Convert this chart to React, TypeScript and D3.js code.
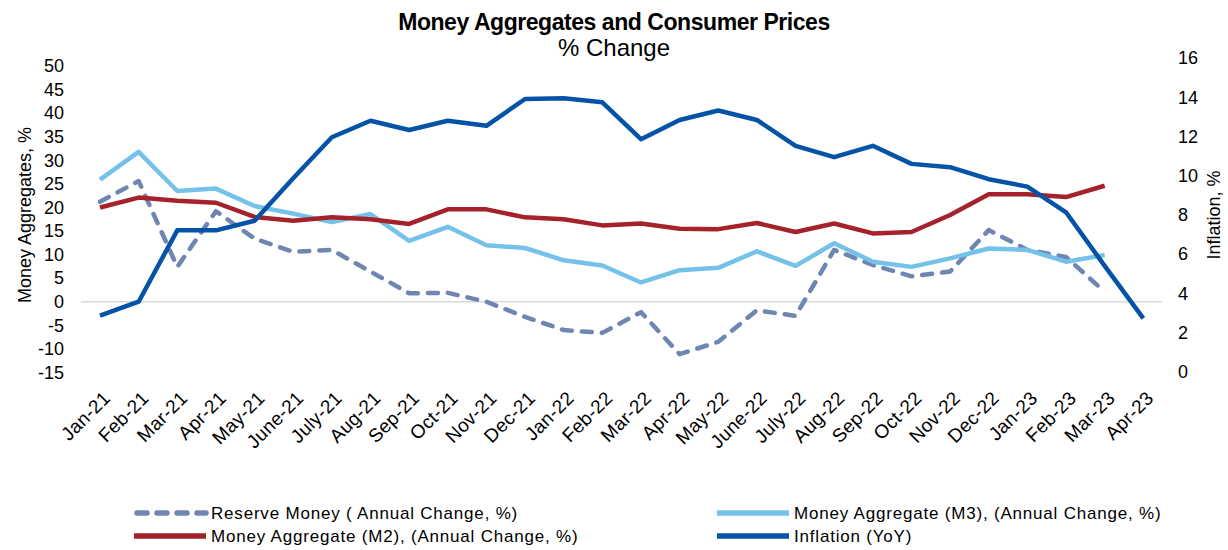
import React, { useEffect, useRef } from 'react';
import * as d3 from 'd3';

const months = [
  'Jan-21', 'Feb-21', 'Mar-21', 'Apr-21', 'May-21', 'June-21', 'July-21', 'Aug-21', 'Sep-21', 'Oct-21',
  'Nov-21', 'Dec-21', 'Jan-22', 'Feb-22', 'Mar-22', 'Apr-22', 'May-22', 'June-22', 'July-22', 'Aug-22',
  'Sep-22', 'Oct-22', 'Nov-22', 'Dec-22', 'Jan-23', 'Feb-23', 'Mar-23', 'Apr-23',
];

// left axis series (money aggregates, %), Apr-23 missing
const reserveMoney = [
  21.2, 25.6, 7.4, 19.2, 13.4, 10.6, 11.0, 6.4, 1.8, 1.9, 0, -3.2, -6.0, -6.6, -2.2, -11.1,
  -8.5, -1.8, -3.0, 11.0, 7.8, 5.4, 6.4, 15.2, 11.0, 9.5, 2.1, null,
];
const m3 = [
  25.9, 31.8, 23.5, 24.0, 20.3, 18.7, 16.9, 18.6, 12.9, 15.9, 12.0, 11.4, 8.8, 7.7, 4.1, 6.7,
  7.2, 10.7, 7.6, 12.4, 8.5, 7.4, 9.2, 11.3, 11.0, 8.5, 9.9, null,
];
const m2 = [
  20.0, 22.1, 21.4, 21.0, 18.0, 17.2, 17.9, 17.5, 16.5, 19.6, 19.6, 17.9, 17.5, 16.2, 16.6, 15.5,
  15.4, 16.7, 14.8, 16.6, 14.5, 14.8, 18.4, 22.8, 22.8, 22.2, 24.6, null,
];
// right axis (inflation yoy, %)
const inflation = [
  2.86, 3.57, 7.21, 7.21, 7.7, 9.87, 11.96, 12.8, 12.33, 12.8, 12.54, 13.91, 13.95, 13.74, 11.86, 12.84,
  13.32, 12.84, 11.52, 10.94, 11.52, 10.6, 10.43, 9.82, 9.44, 8.13, 5.4, 2.72,
];

const leftTicks = [50, 45, 40, 35, 30, 25, 20, 15, 10, 5, 0, -5, -10, -15];
const rightTicks = [16, 14, 12, 10, 8, 6, 4, 2, 0];

const FONT = '"Liberation Sans", Arial, sans-serif';
const W = 1228;
const H = 550;

const series = [
  { name: 'Reserve Money ( Annual Change, %)', values: reserveMoney, color: '#7086b2', dash: '10,10', axis: 'left' },
  { name: 'Money Aggregate (M3), (Annual Change, %)', values: m3, color: '#74c2ea', dash: null, axis: 'left' },
  { name: 'Money Aggregate (M2), (Annual Change, %)', values: m2, color: '#a5222b', dash: null, axis: 'left' },
  { name: 'Inflation (YoY)', values: inflation, color: '#0453a6', dash: null, axis: 'right' },
];

export default function App() {
  const svgRef = useRef<SVGSVGElement>(null);

  useEffect(() => {
    if (!svgRef.current) return;
    const svg = d3.select(svgRef.current);
    svg.selectAll('*').remove();

    const x = d3.scalePoint<string>().domain(months).range([100, 1143.3]);
    const yL = d3.scaleLinear().domain([-15, 50]).range([372.5, 66]);
    const yR = d3.scaleLinear().domain([0, 16]).range([371.7, 58]);

    // zero line
    svg.append('line')
      .attr('x1', 81).attr('x2', 1162)
      .attr('y1', yL(0)).attr('y2', yL(0))
      .attr('stroke', '#d9d9d9').attr('stroke-width', 1.5);

    // tick labels
    svg.append('g').selectAll('text').data(leftTicks).join('text')
      .attr('x', 64).attr('y', d => yL(d))
      .attr('dy', '0.35em').attr('text-anchor', 'end')
      .attr('font-family', FONT).attr('font-size', 18).attr('fill', '#000')
      .text(d => d);

    svg.append('g').selectAll('text').data(rightTicks).join('text')
      .attr('x', 1178).attr('y', d => yR(d))
      .attr('dy', '0.35em').attr('text-anchor', 'start')
      .attr('font-family', FONT).attr('font-size', 18).attr('fill', '#000')
      .text(d => d);

    // axis titles
    svg.append('text')
      .attr('transform', `translate(31,215) rotate(-90)`)
      .attr('text-anchor', 'middle')
      .attr('font-family', FONT).attr('font-size', 18)
      .text('Money Aggregates, %');
    svg.append('text')
      .attr('transform', `translate(1220,215) rotate(-90)`)
      .attr('text-anchor', 'middle')
      .attr('font-family', FONT).attr('font-size', 18)
      .text('Inflation, %');

    // x labels
    svg.append('g').selectAll('text').data(months).join('text')
      .attr('transform', d => `translate(${x(d)! + 2},390) rotate(-45)`)
      .attr('text-anchor', 'end')
      .attr('dy', '0.7em')
      .attr('font-family', FONT).attr('font-size', 19).attr('letter-spacing', 0.3)
      .text(d => d);

    // lines
    series.forEach(s => {
      const yS = s.axis === 'left' ? yL : yR;
      const line = d3.line<number | null>()
        .defined(v => v !== null)
        .x((_, i) => x(months[i])!)
        .y(v => yS(v as number));
      svg.append('path')
        .datum(s.values)
        .attr('d', line)
        .attr('fill', 'none')
        .attr('stroke', s.color)
        .attr('stroke-width', 4.5)
        .attr('stroke-linejoin', 'round')
        .attr('stroke-linecap', s.dash ? 'round' : 'butt')
        .attr('stroke-dasharray', s.dash);
    });

    // titles
    svg.append('text')
      .attr('x', 614).attr('y', 30).attr('text-anchor', 'middle')
      .attr('font-family', FONT).attr('font-size', 23).attr('font-weight', 'bold')
      .attr('letter-spacing', -0.45)
      .text('Money Aggregates and Consumer Prices');
    svg.append('text')
      .attr('x', 614).attr('y', 56).attr('text-anchor', 'middle')
      .attr('font-family', FONT).attr('font-size', 24)
      .text('% Change');

    // legend
    const legendPos = [
      { lx: 134, ly: 513 },
      { lx: 717, ly: 513 },
      { lx: 134, ly: 536 },
      { lx: 717, ly: 536 },
    ];
    series.forEach((s, i) => {
      const p = legendPos[i];
      const g = svg.append('g');
      g.append('line')
        .attr('x1', p.lx + (s.dash ? 3 : 0)).attr('x2', p.lx + 72)
        .attr('y1', p.ly).attr('y2', p.ly)
        .attr('stroke', s.color).attr('stroke-width', 5.5)
        .attr('stroke-linecap', s.dash ? 'round' : 'butt')
        .attr('stroke-dasharray', s.dash);
      g.append('text')
        .attr('x', p.lx + 77).attr('y', p.ly)
        .attr('dy', '0.35em')
        .attr('font-family', FONT).attr('font-size', 17).attr('letter-spacing', 0.8)
        .text(s.name);
    });
  }, []);

  return (
    <svg
      ref={svgRef}
      width={W}
      height={H}
      style={{ position: 'absolute', left: 0, top: 0, display: 'block' }}
    />
  );
}
